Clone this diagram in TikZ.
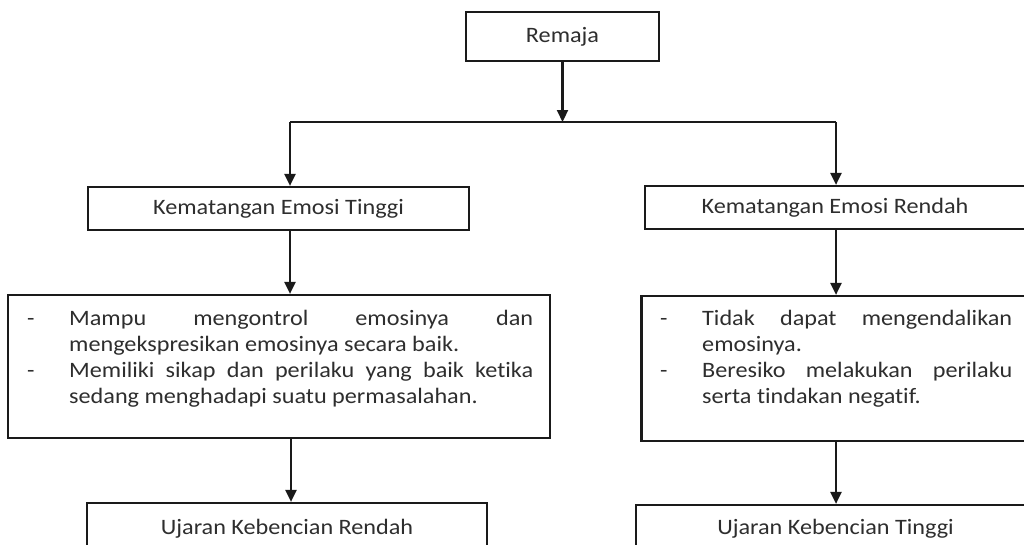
\documentclass[tikz,border=0pt]{standalone}
\usepackage{fontspec}
\setmainfont{Carlito}[FakeStretch=1.1, Ligatures=NoCommon]
\usetikzlibrary{arrows.meta}
\definecolor{ink}{HTML}{1A1A1A}
\definecolor{txt}{HTML}{2E2E2E}
\tikzset{
  box/.style={draw=ink, line width=2.2pt, fill=white, inner sep=0pt, text=txt,
    font=\fontsize{22}{26}\selectfont, anchor=center},
  arr/.style={draw=ink, line width=2.2pt, -{Triangle[width=11pt,length=12pt]}},
  ln/.style={draw=ink, line width=2.2pt},
  body/.style={inner sep=0pt, anchor=base west, text=txt, font=\fontsize{22}{26}\selectfont}
}
\newcommand{\dashitem}[1]{\noindent\hangindent=42pt\hangafter=1\makebox[42pt][l]{-}#1\par}
\begin{document}
\begin{tikzpicture}[x=1pt,y=-1pt]
\useasboundingbox (0,0) rectangle (1024,544);
\clip (0,0) rectangle (1024,544);
\fill[white] (0,0) rectangle (1024,544);

\node[box, minimum width=193pt, minimum height=49pt] (remaja) at (562.5,36.5) {Remaja};
\node[box, minimum width=381pt, minimum height=43pt] (kt) at (278.5,208.5) {Kematangan Emosi Tinggi};
\node[box, minimum width=380pt, minimum height=43pt] (kr) at (835,207.5) {Kematangan Emosi Rendah};
\node[box, minimum width=542pt, minimum height=143pt] (dl) at (279,366.5) {};
\node[box, minimum width=390pt, minimum height=145pt] (dr) at (836.5,368.5) {};
\node[box, minimum width=400pt, minimum height=51pt] (ul) at (287,528.5) {Ujaran Kebencian Rendah};
\node[box, minimum width=399pt, minimum height=47pt] (ur) at (835.5,528.5) {Ujaran Kebencian Tinggi};

\node[body] (tl) at (27,325) {\parbox[t]{506pt}{\fontsize{22}{26}\selectfont
  \dashitem{Mampu mengontrol emosinya dan\linebreak mengekspresikan emosinya secara baik.}
  \dashitem{Memiliki sikap dan perilaku yang baik ketika\linebreak sedang menghadapi suatu permasalahan.}}};
\node[body] (tr) at (660,325) {\parbox[t]{352pt}{\fontsize{22}{26}\selectfont
  \dashitem{Tidak dapat mengendalikan\linebreak emosinya.}
  \dashitem{Beresiko melakukan perilaku\linebreak serta tindakan negatif.}}};

\coordinate (jl) at (290,122);
\coordinate (jr) at (836,122);
\coordinate (jm) at (remaja.south |- jl);
\coordinate (xl) at (291,0);

\draw[arr] (remaja.south) -- (jm);
\draw[ln] (jl) -- (jr);
\draw[arr] (jl) -- (jl |- kt.north);
\draw[arr] (jr) -- (jr |- kr.north);
\draw[arr] (kt.south -| jl) -- (dl.north -| jl);
\draw[arr] (kr.south -| jr) -- (dr.north -| jr);
\draw[arr] (dl.south -| xl) -- (ul.north -| xl);
\draw[arr] (dr.south -| jr) -- (ur.north -| jr);
\end{tikzpicture}
\end{document}
